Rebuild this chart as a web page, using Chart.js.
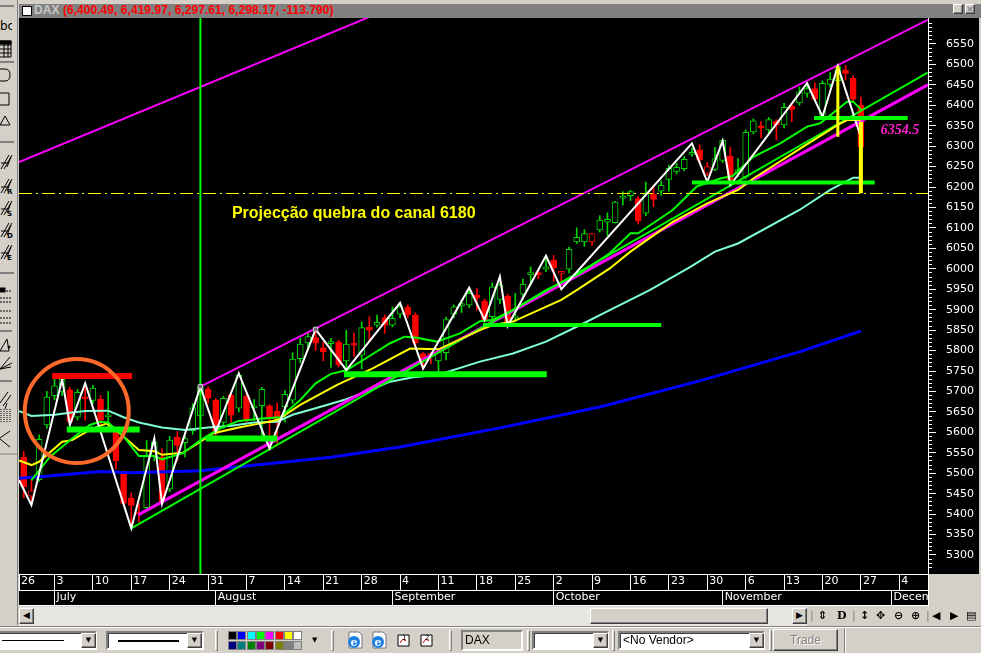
<!DOCTYPE html>
<html><head><meta charset="utf-8">
<script src="https://cdn.jsdelivr.net/npm/chart.js@4"></script>
<style>
html,body{margin:0;padding:0;background:#d4d0c8;width:981px;height:653px;overflow:hidden;font-family:"DejaVu Sans",sans-serif}
.a{position:absolute;box-sizing:border-box}
#c{position:absolute;left:0;top:0}
.sunk{background:#fff;border:2px solid;border-color:#808080 #fff #fff #808080;box-shadow:inset 1px 1px 0 #404040}
.btn{background:#d4d0c8;border:1px solid;border-color:#fff #404040 #404040 #fff;box-shadow:inset -1px -1px 0 #808080}
.grip{width:3px;border:1px solid;border-color:#fff #808080 #808080 #fff}
</style></head><body>
<div class="a" style="left:19px;top:4px;width:962px;height:14px;background:#808080"></div>
<div class="a" style="left:22px;top:6px;width:10px;height:10px;background:#fff;border:1px solid #000"></div>
<div class="a" style="left:34px;top:3px;font:bold 12px 'Liberation Sans';color:#c8c8c8;white-space:nowrap;letter-spacing:0.05px">DAX <span style="color:#ff0000">(6,400.49, 6,419.97, 6,297.61, 6,298.17, -113.790)</span></div>
<div class="a btn" style="left:953px;top:4px;width:10px;height:10px"></div>
<div class="a btn" style="left:965px;top:4px;width:10px;height:10px;font:bold 9px/8px 'DejaVu Sans';text-align:center;color:#808080">×</div>
<div class="a" style="left:17px;top:0;width:1px;height:625px;background:#808080"></div>
<div class="a" style="left:0;top:19px;font:12px 'DejaVu Sans';color:#000;width:12px;overflow:hidden">bc</div>
<svg class="a" style="left:0;top:3px" width="18" height="460" fill="none" stroke="#000" stroke-width="1">
 <path d="M0 3H14" stroke="#808080" stroke-width="2"/>
 <path d="M0 38H11V54H0M0 42H11M0 46H11M0 50H11M4 38V54M8 38V54"/><rect x="0" y="38" width="11" height="3" fill="#000"/>
 <path d="M0 59H14" stroke="#808080" stroke-width="2"/>
 <path d="M0 66H5Q10 66 10 72Q10 78 5 78H0"/><path d="M0 90H9V102H0"/><path d="M0 122L5 113L10 122Z"/>
 <path d="M0 139H14" stroke="#808080" stroke-width="2"/>
 <path d="M1 166L9 152M4 166L12 152M7 164L11 154M1 160H9"/>
 <path d="M1 190L9 176M4 190L12 176M7 188L11 178M1 184H9"/><path d="M1 212L9 198M4 212L12 198M7 210L11 200M1 206H9"/><path d="M1 234L9 220M4 234L12 220M7 232L11 222M1 228H9"/><path d="M1 256L9 242M4 256L12 242M7 254L11 244M1 250H9"/>
 <g font-size="7" font-weight="bold" font-family="DejaVu Sans" fill="#000" stroke="none"><text x="7" y="191">R</text><text x="7" y="213">S</text><text x="7" y="235">D</text><text x="7" y="257">E</text></g>
 <path d="M0 270H14" stroke="#808080" stroke-width="2"/>
 <path d="M0 288H11M0 295H11M0 299H11" stroke-dasharray="2 1"/><rect x="0" y="285" width="5" height="4" fill="#000"/>
 <path d="M0 308H11M0 315H11M0 320H11" stroke-dasharray="2 1"/>
 <path d="M0 328H12" stroke="#808080" stroke-width="2"/>
 <path d="M0 348L7 336L9 348H0"/><circle cx="9" cy="344" r="1" fill="#000"/>
 <path d="M0 366L10 354M0 366L12 360M0 366L11 364"/>
 <path d="M0 378H12" stroke="#808080" stroke-width="2"/>
 <path d="M0 400L8 389M3 403L11 392M7 400L5 406"/>
 <path d="M1 406V420M4 406V420M7 406V420M10 406V420" stroke-dasharray="1 1"/>
 <path d="M0 435L10 428M0 436L10 444"/>
 <path d="M0 451H18" stroke="#808080" stroke-width="1"/>
</svg>
<canvas id="c" width="981" height="653"></canvas>
<div class="a" style="left:928px;top:575px;width:53px;height:32px;background:#d4d0c8;border-left:1px solid #fff"></div>
<div class="a" style="left:19px;top:605px;width:910px;height:1px;background:#fff"></div>
<div class="a" style="left:979px;top:18px;width:2px;height:557px;background:#d4d0c8"></div>
<!-- scrollbar -->
<div class="a" style="left:19px;top:607px;width:788px;height:19px;background-color:#e8e6e0;background-image:radial-gradient(#b8b4ac 0.5px,transparent 0.6px);background-size:2px 2px"></div>
<div class="a btn" style="left:19px;top:608px;width:15px;height:16px;font:9px/13px 'DejaVu Sans';text-align:center">◀</div>
<div class="a btn" style="left:590px;top:608px;width:178px;height:16px"></div>
<div class="a btn" style="left:792px;top:608px;width:15px;height:16px;font:9px/13px 'DejaVu Sans';text-align:center">▶</div>
<div class="a" style="left:810px;top:609px;width:170px;height:14px;white-space:nowrap;font:bold 11px/14px 'DejaVu Sans'">
 <span style="position:absolute;left:0;font-weight:400;color:#808080">|</span><span style="position:absolute;left:8px">⇕</span><span style="position:absolute;left:27px;font-family:'DejaVu Serif'">D</span><span style="position:absolute;left:42px;font-weight:400;color:#808080">|</span><span style="position:absolute;left:50px">↕</span><span style="position:absolute;left:66px">✥</span><span style="position:absolute;left:84px">⊖</span><span style="position:absolute;left:101px">⊕</span><span style="position:absolute;left:116px;font-weight:400;color:#808080">|</span><span style="position:absolute;left:122px">◀</span><span style="position:absolute;left:140px">▶</span><span style="position:absolute;left:156px">▤</span></div>
<!-- bottom toolbar -->
<div class="a" style="left:0;top:626px;width:981px;height:1px;background:#808080"></div>
<div class="a" style="left:0;top:627px;width:981px;height:1px;background:#fff"></div>
<div class="a sunk" style="left:-4px;top:631px;width:101px;height:19px"><div class="a" style="left:4px;top:7px;width:62px;height:1px;background:#000"></div></div>
<div class="a btn" style="left:81px;top:633px;width:15px;height:15px;font:7px/13px 'DejaVu Sans';text-align:center">▼</div>
<div class="a sunk" style="left:106px;top:631px;width:98px;height:19px"><div class="a" style="left:10px;top:7px;width:61px;height:2px;background:#000"></div></div>
<div class="a btn" style="left:187px;top:633px;width:15px;height:15px;font:7px/13px 'DejaVu Sans';text-align:center">▼</div>
<div class="a grip" style="left:215px;top:630px;height:21px"></div>
<div id="pal"></div>
<div class="a" style="left:312px;top:636px;font:7px 'DejaVu Sans'">▼</div>
<div class="a grip" style="left:331px;top:630px;height:21px"></div>
<svg class="a" style="left:346px;top:631px" width="100" height="20">
 <g><path d="M3 1H13L16 4V17H3Z" fill="#fff" stroke="#777"/><circle cx="8" cy="11" r="6" fill="#1d7fe0"/><text x="4.6" y="15" font-family="DejaVu Serif" font-weight="bold" font-size="11" fill="#fff">e</text></g>
 <g transform="translate(24,0)"><path d="M3 1H13L16 4V17H3Z" fill="#fff" stroke="#777"/><circle cx="8" cy="11" r="6" fill="#1d7fe0"/><text x="4.6" y="15" font-family="DejaVu Serif" font-weight="bold" font-size="11" fill="#fff">e</text></g>
 <g transform="translate(51,3)"><path d="M1 1H12V12H1Z" fill="#fff" stroke="#000"/><path d="M3 9L6 5L9 7" stroke="#d00" fill="none"/><text x="5" y="6" font-size="7" font-family="DejaVu Sans">1</text></g>
 <g transform="translate(74,3)"><path d="M1 1H12V12H1Z" fill="#fff" stroke="#000"/><path d="M3 9L6 5L9 7" stroke="#d00" fill="none"/><text x="5" y="6" font-size="7" font-family="DejaVu Sans">2</text></g>
</svg>
<div class="a grip" style="left:449px;top:630px;height:21px"></div>
<div class="a" style="left:461px;top:630px;width:62px;height:21px;background:#d4d0c8;border:2px solid;border-color:#808080 #fff #fff #808080;font:12px/17px 'Liberation Sans';padding-left:2px">DAX</div>
<div class="a grip" style="left:527px;top:630px;height:21px"></div>
<div class="a sunk" style="left:532px;top:631px;width:77px;height:19px"></div>
<div class="a btn" style="left:593px;top:633px;width:15px;height:15px;font:7px/13px 'DejaVu Sans';text-align:center">▼</div>
<div class="a grip" style="left:612px;top:630px;height:21px"></div>
<div class="a sunk" style="left:618px;top:631px;width:147px;height:19px;font:12px/15px 'Liberation Sans';padding-left:3px">&lt;No Vendor&gt;</div>
<div class="a btn" style="left:749px;top:633px;width:15px;height:15px;font:7px/13px 'DejaVu Sans';text-align:center">▼</div>
<div class="a grip" style="left:769px;top:630px;height:21px"></div>
<div class="a btn" style="left:773px;top:629px;width:65px;height:22px;font:12px/20px 'Liberation Sans';text-align:center;color:#808080;text-shadow:1px 1px 0 #fff">Trade</div>
<div class="a" style="left:844px;top:628px;width:2px;height:25px;border-left:1px solid #808080;border-right:1px solid #fff"></div>
<script>
// trading-day index (0 = July 3) for every candle
const days=[-4,-3,-2,-1,0,1,2,3,4,5,6,7,8,9,10,11,12,13,14,15,16,17,18,19,20,21,22,23,24,25,26,27,28,29,30,31,32,33,34,35,36,37,38,39,40,41,42,43,44,45,46,47,48,49,50,51,52,53,54,55,56,57,58,59,60,61,62,63,64,65,66,67,68,69,70,71,72,73,74,75,76,77,78,79,80,81,82,83,84,85,86,87,88,89,90,91,92,93,94,95,96,97,98,99,100,101,102,103,104,105];
const opens=[5539,5457,5484,5618,5690,5700,5704,5637,5684,5678,5681,5638,5606,5500,5439,5402,5416,5540,5540,5461,5588,5575,5604,5640,5706,5679,5624,5691,5659,5689,5660,5665,5665,5652,5663,5679,5780,5819,5832,5807,5817,5821,5775,5814,5789,5857,5862,5881,5862,5889,5906,5887,5793,5790,5775,5795,5889,5909,5911,5936,5921,5883,5925,5933,5880,5938,5985,5991,5999,6021,5989,5999,6066,6066,6086,6095,6114,6113,6173,6179,6172,6136,6182,6190,6219,6238,6245,6280,6291,6250,6243,6265,6276,6234,6225,6335,6350,6340,6361,6352,6398,6406,6429,6441,6372,6451,6460,6486,6466,6400.49];
const closes=[5467,5444,5583,5686,5714,5730,5626,5698,5682,5708,5630,5640,5531,5426,5421,5400,5541,5576,5430,5581,5568,5585,5660,5712,5683,5598,5683,5642,5740,5630,5662,5705,5634,5630,5693,5779,5816,5834,5818,5797,5820,5765,5816,5813,5856,5850,5869,5862,5879,5907,5887,5818,5778,5788,5795,5876,5907,5915,5940,5929,5875,5956,5960,5871,5882,5962,5991,5986,6005,6003,5993,6048,6077,6086,6066,6119,6121,6163,6174,6189,6117,6185,6170,6204,6246,6248,6268,6283,6266,6234,6270,6315,6217,6243,6334,6362,6344,6365,6352,6395,6390,6433,6441,6415,6454,6464,6495,6478,6415,6298.17];
const highs=[5553,5483,5594,5700,5730,5735,5710,5705,5720,5715,5690,5700,5610,5506,5452,5426,5580,5585,5560,5590,5602,5590,5670,5715,5712,5683,5688,5700,5745,5695,5680,5710,5668,5672,5702,5795,5830,5845,5850,5820,5830,5825,5850,5842,5870,5883,5887,5887,5907,5915,5912,5892,5795,5795,5800,5882,5912,5924,5948,5952,5926,5966,5965,5938,5940,5975,6005,5995,6030,6033,5993,6053,6100,6096,6086,6130,6137,6165,6189,6192,6177,6212,6205,6215,6254,6258,6275,6295,6303,6260,6297,6315,6298,6270,6340,6367,6360,6370,6365,6405,6405,6445,6455,6455,6460,6480,6497,6498,6472,6419.97];
const lows=[5440,5426,5480,5610,5680,5690,5620,5630,5630,5670,5620,5612,5510,5420,5370,5381,5410,5530,5425,5455,5530,5540,5595,5635,5672,5590,5610,5625,5650,5625,5630,5585,5557,5570,5625,5670,5770,5800,5800,5775,5759,5760,5755,5785,5755,5825,5857,5842,5858,5880,5880,5810,5755,5768,5750,5777,5880,5893,5905,5899,5870,5870,5915,5866,5870,5925,5960,5976,5993,5970,5968,5990,6062,6055,6058,6090,6082,6112,6156,6167,6110,6130,6152,6180,6190,6232,6240,6275,6260,6228,6240,6260,6213,6225,6220,6330,6320,6330,6315,6345,6360,6400,6420,6410,6367,6445,6450,6462,6410,6297.61];
const hollowRedDays=[-3,66,70,85];

// moving averages and zigzag
const cyanDays=[-4.6,-3,0,2,4,7,9,11,14,17,20,23,26,29,31,34,38,40,43.7,46.7,50,55.4,59.7,64,68.4,72.3,77.5,82.8,86,89,97,101,104,105];
const cyanVals=[5652,5640,5643,5648,5652,5653,5637,5624,5612,5606,5612,5616,5624,5626,5643,5659,5681,5695,5724,5735,5741,5773,5793,5822,5862,5899,5948,6005,6042,6062,6144,6193,6223,6223];
const yellowDays=[-4.6,-3,-2,1,2.3,4.6,6.8,8.5,11,13,14,16.7,19,20.7,24,26.8,29,32,36.8,41.5,46.3,50,55.4,57,59.7,66,68,72.3,75,80.5,85,89,91,97.5,102,103.2,105];
const yellowVals=[5531,5520,5528,5577,5581,5606,5622,5598,5557,5554,5545,5550,5577,5598,5612,5622,5630,5667,5716,5757,5805,5803,5850,5862,5871,5924,5948,6001,6042,6115,6160,6193,6221,6299,6352,6364,6364];
const greenDays=[-3,-0.6,2.3,4.6,5.9,7,9,11,13,14,16.7,19,21.6,24,26.8,29.4,32,34,36,38,40.2,43.7,45.6,47,49.8,52.8,55.4,57,59.3,64,68.4,72.3,75,76,80.5,83.6,86.7,88.3,91,94.5,98,99.7,103.2,104,105];
const greenVals=[5483,5540,5585,5618,5626,5624,5590,5542,5542,5534,5549,5581,5610,5628,5633,5637,5679,5720,5743,5752,5777,5818,5834,5832,5822,5842,5872,5875,5895,5948,5989,6038,6087,6087,6144,6201,6221,6227,6274,6307,6348,6356,6409,6409,6390];
const blueDays=[-4.6,-1.5,6,10,19,36,45,58,71,84,97,105];
const blueVals=[5488,5492,5504,5501,5506,5539,5564,5611,5662,5726,5797,5848];
const zigDays=[-4.6,-3,1,2,4,10,13,14,19,21,24,28,34,38,45,48,54,56,58,59,64,66,83,85,87,88,98,100,102,105];
const zigVals=[5483,5422,5730,5618,5720,5365,5585,5425,5712,5602,5744,5561,5852,5752,5917,5756,5954,5875,5981,5860,6032,5950,6307,6213,6313,6205,6454,6372,6496,6322];

// drawn trend lines: from [day, value] to [day, value]
const magentaUpper=[[19,5712],[113.7,6609]];
const magentaLower=[[10.9,5398],[113.7,6450]];
const magentaFar=[[-4.62,6261],[41.5,6620]];
const greenTrend=[[10,5365],[113.7,6480]];
const dashLevel=6184.3;
const cursorDay=19;
const yellowBars=[[102,6496,6323],[105,6360,6185]];
const redLevel=[-0.3,10.1,5738];
const greenLevels=[[1.6,11.1,5607],[19.7,29,5585],[37.7,64.1,5742],[55.8,79,5862.6],[83,106.8,6211],[98.9,111.1,6369]];
const pivotDays=[19,34];
const pivotVals=[5712,5852];
const circleDay=2.9;
const circleVal=5652;

// axes
const xMin=-4.62,xMax=113.74,yMin=5253.5,yMax=6613.6;
const priceTicks=[5300,5350,5400,5450,5500,5550,5600,5650,5700,5750,5800,5850,5900,5950,6000,6050,6100,6150,6200,6250,6300,6350,6400,6450,6500,6550];
const weekTicks=[xMin,0,5,10,15,20,25,30,35,40,45,50,55,60,65,70,75,80,85,90,95,100,105,110];
const weekLabels=['26','3','10','17','24','31','7','14','21','28','4','11','18','25','2','9','16','23','30','6','13','20','27','4'];
const monthTicks=[0,21,44,65,87,109];
const monthLabels=['July','August','September','October','November','December'];
const notes=[
 {text:'Projecção quebra do canal 6180',day:23.1,val:6124,font:'bold 16px "Liberation Sans"',color:'#ffff00'},
 {text:'6354.5',day:107.6,val:6330,font:'italic bold 14px "Liberation Serif"',color:'#ff20d0'}
];
const palette=['#000000','#0000ff','#00ffff','#00ff00','#ff00ff','#ff0000','#ffff00','#ffffff','#000080','#008080','#008000','#800080','#800000','#808000','#808080','#c0c0c0'];

palette.forEach((col,i)=>{
  const s=document.createElement('div');
  s.className='a';
  s.style.cssText=`left:${228+(i%8)*9.33}px;top:${i<8?631:641}px;width:9px;height:9px;background:${col};border:1px solid #808080`;
  document.getElementById('pal').appendChild(s);
});

const pts=(xs,ys)=>xs.map((x,i)=>({x,y:ys[i]}));
const seg=(a)=>a.map(p=>({x:p[0],y:p[1]}));
const line=(data,color,width,order,extra)=>Object.assign({type:'line',data,borderColor:color,borderWidth:width,pointRadius:0,tension:0,fill:false,order,borderCapStyle:'butt'},extra||{});

const isHollow=d=>hollowRedDays.includes(d);
const wicks=days.map((d,i)=>({x:d,y:[lows[i],highs[i]]}));
const bodies=days.map((d,i)=>({x:d,y:[opens[i],closes[i]]}));
const isDown=i=>closes[i]<opens[i]||isHollow(days[i]);

const datasets=[
 {type:'bar',data:wicks,barThickness:1,grouped:false,order:30,borderWidth:0,
  backgroundColor:days.map((d,i)=>isDown(i)?'#ff0000':'#00d800')},
 {type:'bar',data:bodies,barThickness:6,grouped:false,order:29,borderWidth:1,borderSkipped:false,minBarLength:2,
  borderColor:days.map((d,i)=>isDown(i)?'#ff0000':'#00d800'),
  backgroundColor:days.map((d,i)=>(isDown(i)&&!isHollow(d))?'#ff0000':'#000000')},
 line(pts(cyanDays,cyanVals),'#7fffd4',2,20),
 line(pts(blueDays,blueVals),'#0000ff',3,19),
 line(seg(magentaFar),'#ff00ff',2,18),
 line(seg(magentaUpper),'#ff00ff',2,17),
 line(seg(magentaLower),'#ff00ff',3,16),
 line(seg(greenTrend),'#00ff00',2,15),
 line(pts(yellowDays,yellowVals),'#ffff00',2,14),
 line(pts(greenDays,greenVals),'#00ff00',2,13),
 line(pts([xMin,xMax],[dashLevel,dashLevel]),'#ffff00',1,12,{borderDash:[13,4,2,4]}),
 line(pts([cursorDay,cursorDay],[yMin,yMax]),'#00ff00',2,11),
 line(pts(zigDays,zigVals),'#ffffff',2,10),
 line(pts([redLevel[0],redLevel[1]],[redLevel[2],redLevel[2]]),'#ff0000',6,9),
 ...greenLevels.map((g,i)=>line(pts([g[0],g[1]],[g[2],g[2]]),'#00ff00',i<3?6:4,8)),
 ...yellowBars.map((b,i)=>line(pts([b[0],b[0]],[b[1],b[2]]),'#ffff00',i?4:3,7)),
 {type:'scatter',data:pts(pivotDays,pivotVals),pointStyle:'rect',pointRadius:3,borderColor:'#c8c8c8',backgroundColor:'#806080',borderWidth:1,order:6},
 {type:'scatter',data:[{x:circleDay,y:circleVal}],pointStyle:'circle',pointRadius:52,pointBorderWidth:4,borderColor:'#ff6a2a',backgroundColor:'rgba(0,0,0,0)',order:5}
];

const tickFont={family:'"DejaVu Sans"',size:11};
const xAxisBase=(vals,labels,weight)=>({
  type:'linear',position:'bottom',min:xMin,max:xMax,offset:false,weight,
  border:{color:'#ffffff',display:true},
  grid:{drawOnChartArea:false,drawTicks:true,tickLength:16,tickColor:'#ffffff',offset:false},
  afterBuildTicks:s=>{s.ticks=vals.map(v=>({value:v}));},
  afterFit:s=>{s.height=16;},
  ticks:{autoSkip:false,maxRotation:0,minRotation:0,align:'start',padding:-15,labelOffset:2,color:'#ffffff',font:tickFont,callback:(v,i)=>labels[i]}
});

const bg={id:'bg',beforeDraw(ch){
  const c=ch.ctx,a=ch.chartArea;
  c.save();c.fillStyle='#000';
  c.fillRect(a.left,a.top,979-a.left,a.bottom-a.top);
  c.fillRect(a.left,a.bottom,a.right-a.left,32);
  c.restore();
}};
const noteLayer={id:'notes',afterDatasetsDraw(ch){
  const c=ch.ctx,X=ch.scales.x,Y=ch.scales.y;
  c.save();c.textBaseline='alphabetic';c.textAlign='left';
  notes.forEach(n=>{c.font=n.font;c.fillStyle=n.color;c.fillText(n.text,X.getPixelForValue(n.day),Y.getPixelForValue(n.val));});
  c.restore();
}};

new Chart(document.getElementById('c'),{
  type:'bar',
  data:{datasets},
  plugins:[bg,noteLayer],
  options:{
    responsive:false,animation:false,events:[],
    layout:{autoPadding:false,padding:{left:19,top:18,right:2,bottom:47}},
    plugins:{legend:{display:false},title:{display:false},tooltip:{enabled:false}},
    scales:{
      x:xAxisBase(weekTicks,weekLabels,1),
      xMonth:xAxisBase(monthTicks,monthLabels,2),
      yMinor:{
        type:'linear',position:'right',min:yMin,max:yMax,weight:1,
        border:{display:false},
        grid:{drawOnChartArea:false,tickLength:4,tickColor:'#ffffff'},
        ticks:{stepSize:10,display:false,autoSkip:false},
        afterBuildTicks:s=>{s.ticks=s.ticks.filter(t=>t.value%10===0);},
        afterFit:s=>{s.width=0;}
      },
      y:{
        type:'linear',position:'right',min:yMin,max:yMax,weight:2,
        border:{color:'#ffffff',display:true},
        grid:{drawOnChartArea:false,tickLength:8,tickColor:'#ffffff'},
        afterBuildTicks:s=>{s.ticks=priceTicks.map(v=>({value:v}));},
        afterFit:s=>{s.width=51;},
        ticks:{autoSkip:false,padding:10,color:'#ffffff',font:tickFont,callback:v=>String(v)}
      }
    }
  }
});
</script>
</body></html>
